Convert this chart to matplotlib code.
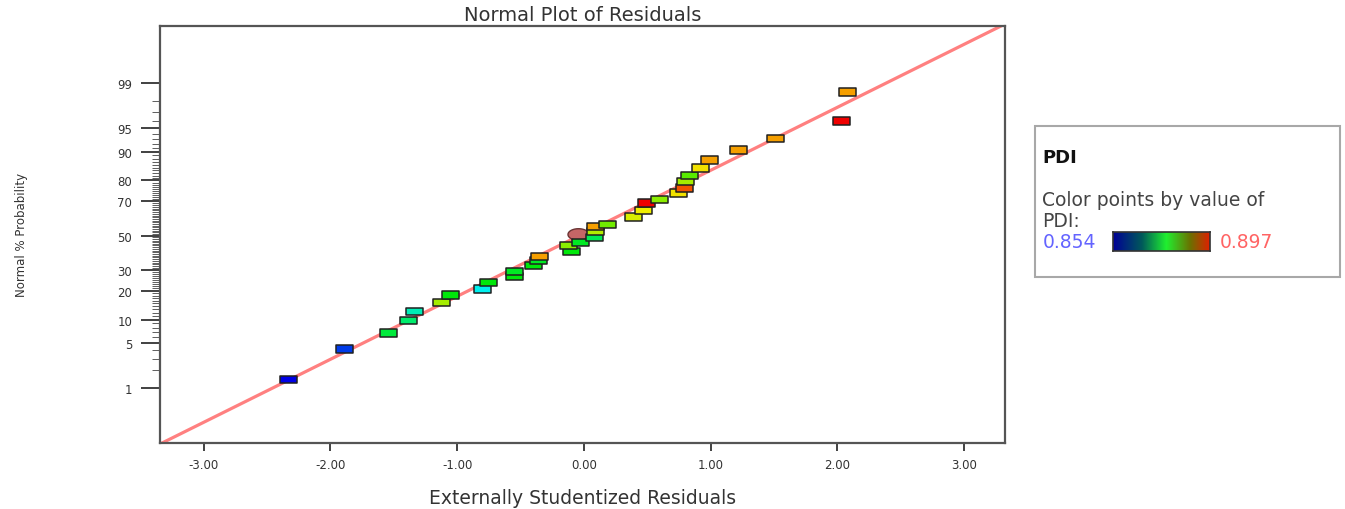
import numpy as np
import matplotlib
matplotlib.use("Agg")
import matplotlib.pyplot as plt
from matplotlib.path import Path
from matplotlib.colors import LinearSegmentedColormap, Normalize
from matplotlib.patches import Rectangle
from statistics import NormalDist

# residuals (x) and normal % probability (y)
residuals = [-2.33, -1.89, -1.54, -1.38, -1.34, -1.12, -1.05, -0.80, -0.75, -0.55,
             -0.55, -0.40, -0.36, -0.35, -0.10, -0.12, -0.03, 0.08, 0.09,
             0.09, 0.19, 0.39, 0.47, 0.49, 0.60, 0.75, 0.79, 0.80, 0.83,
             0.92, 0.99, 1.22, 1.51, 2.03, 2.08]
probability = [1.4, 4.2, 6.9, 9.7, 12.3, 15.4, 18.2, 20.8, 23.7, 26.6,
               29.2, 32.4, 35.2, 37.5, 40.5, 44.0, 45.9, 48.9, 52.6,
               55.6, 56.8, 61.0, 65.0, 68.9, 71.0, 74.1, 76.5, 79.6, 82.1,
               84.8, 87.5, 90.4, 93.1, 96.0, 98.6]
pdi = [0.854, 0.857, 0.873, 0.871, 0.868, 0.882, 0.875, 0.8656, 0.875, 0.875,
       0.874, 0.875, 0.874, 0.8905, 0.875, 0.881, 0.874, 0.872, 0.8824,
       0.8905, 0.880, 0.884, 0.885, 0.897, 0.881, 0.886, 0.8935, 0.882, 0.879,
       0.886, 0.8905, 0.8905, 0.8905, 0.897, 0.8905]

# highlighted point (drawn as circle)
hl_residual = -0.05
hl_probability = 50.7

pdi_min, pdi_max = 0.854, 0.897
line_slope, line_intercept = 0.962, 0.035

prob_ticks = [1, 5, 10, 20, 30, 50, 70, 80, 90, 95, 99]
x_ticks = [-3, -2, -1, 0, 1, 2, 3]

nd = NormalDist()
def z(p):
    return nd.inv_cdf(p / 100.0)

fig = plt.figure(figsize=(13.45, 5.1), dpi=100)
ax = fig.add_axes([0.119, 0.129, 0.628, 0.818])

# fitted reference line
xl = np.linspace(-3.6, 3.6, 50)
ax.plot(xl, line_slope * xl + line_intercept, color="#ff8080", lw=2.3, zorder=1)

point_cmap = LinearSegmentedColormap.from_list(
    "pts", [(0, "#0000e6"), (0.27, "#00f0f0"), (0.5, "#00e800"),
            (0.72, "#f0f000"), (0.85, "#f5a000"), (1, "#f00000")])
norm = Normalize(pdi_min, pdi_max)

rect = Path([(-1, -0.45), (1, -0.45), (1, 0.45), (-1, 0.45), (-1, -0.45)],
            [Path.MOVETO, Path.LINETO, Path.LINETO, Path.LINETO, Path.CLOSEPOLY])
ell_pts = [(np.cos(t), 0.55 * np.sin(t)) for t in np.linspace(0, 2 * np.pi, 40)]
ellipse = Path(ell_pts, closed=True)

ax.scatter([hl_residual], [z(hl_probability)], marker=ellipse, s=230,
           facecolor="#c46666", edgecolor="#6a3434", linewidths=1.0, zorder=2)

zs = [z(p) for p in probability]
ax.scatter(residuals, zs, c=pdi, cmap=point_cmap, norm=norm, marker=rect,
           s=150, edgecolors="#202020", linewidths=1.1, zorder=3)

ax.set_xlim(-3.344, 3.32)
ax.set_ylim(-3.17, 3.2)

ax.set_xticks(x_ticks)
ax.set_xticklabels([f"{v:.2f}" for v in x_ticks], fontsize=8.5, color="#333333")
ax.set_yticks([z(p) for p in prob_ticks])
ax.set_yticklabels([str(p) for p in prob_ticks], fontsize=8.5, color="#333333")
minor = [z(p) for p in range(1, 100) if p not in prob_ticks]
ax.set_yticks(minor, minor=True)
ax.tick_params(axis="x", which="major", length=6, width=1.3, color="#333333", pad=5)
ax.tick_params(axis="y", which="major", length=14, width=1.3, color="#333333", pad=6)
ax.tick_params(axis="y", which="minor", length=6, width=0.6, color="#444444")

for s in ax.spines.values():
    s.set_linewidth(1.6)
    s.set_color("#555555")

ax.set_title("Normal Plot of Residuals", fontsize=14, color="#333333", pad=4)
ax.set_xlabel("Externally Studentized Residuals", fontsize=13.5, color="#333333", labelpad=12)
fig.text(0.016, 0.539, "Normal % Probability", rotation=90, ha="center", va="center",
         fontsize=8.5, color="#333333", family=["Liberation Sans Narrow", "DejaVu Sans"])

# legend box
fig.patches.append(Rectangle((0.7695, 0.455), 0.2268, 0.296, transform=fig.transFigure,
                             fill=False, edgecolor="#a8a8a8", lw=1.5))
fig.text(0.775, 0.69, "PDI", fontsize=13, fontweight="bold", color="#111111", va="center")
fig.text(0.775, 0.607, "Color points by value of", fontsize=13.5, color="#444444", va="center")
fig.text(0.775, 0.566, "PDI:", fontsize=13.5, color="#444444", va="center")
fig.text(0.775, 0.525, f"{pdi_min:.3f}", fontsize=13.5, color="#6464ff", va="center")
fig.text(0.907, 0.525, f"{pdi_max:.3f}", fontsize=13.5, color="#ff6464", va="center")

bar_cmap = LinearSegmentedColormap.from_list(
    "bar", [(0, "#000096"), (0.3, "#005a5a"), (0.55, "#20f030"),
            (0.8, "#6c7000"), (1, "#e02000")])
cax = fig.add_axes([0.8275, 0.506, 0.0721, 0.0373])
cax.imshow(np.linspace(0, 1, 256)[None, :], cmap=bar_cmap, aspect="auto")
cax.set_xticks([])
cax.set_yticks([])
for s in cax.spines.values():
    s.set_linewidth(1.2)
    s.set_color("#333333")

fig.savefig("out.png", dpi=100)
